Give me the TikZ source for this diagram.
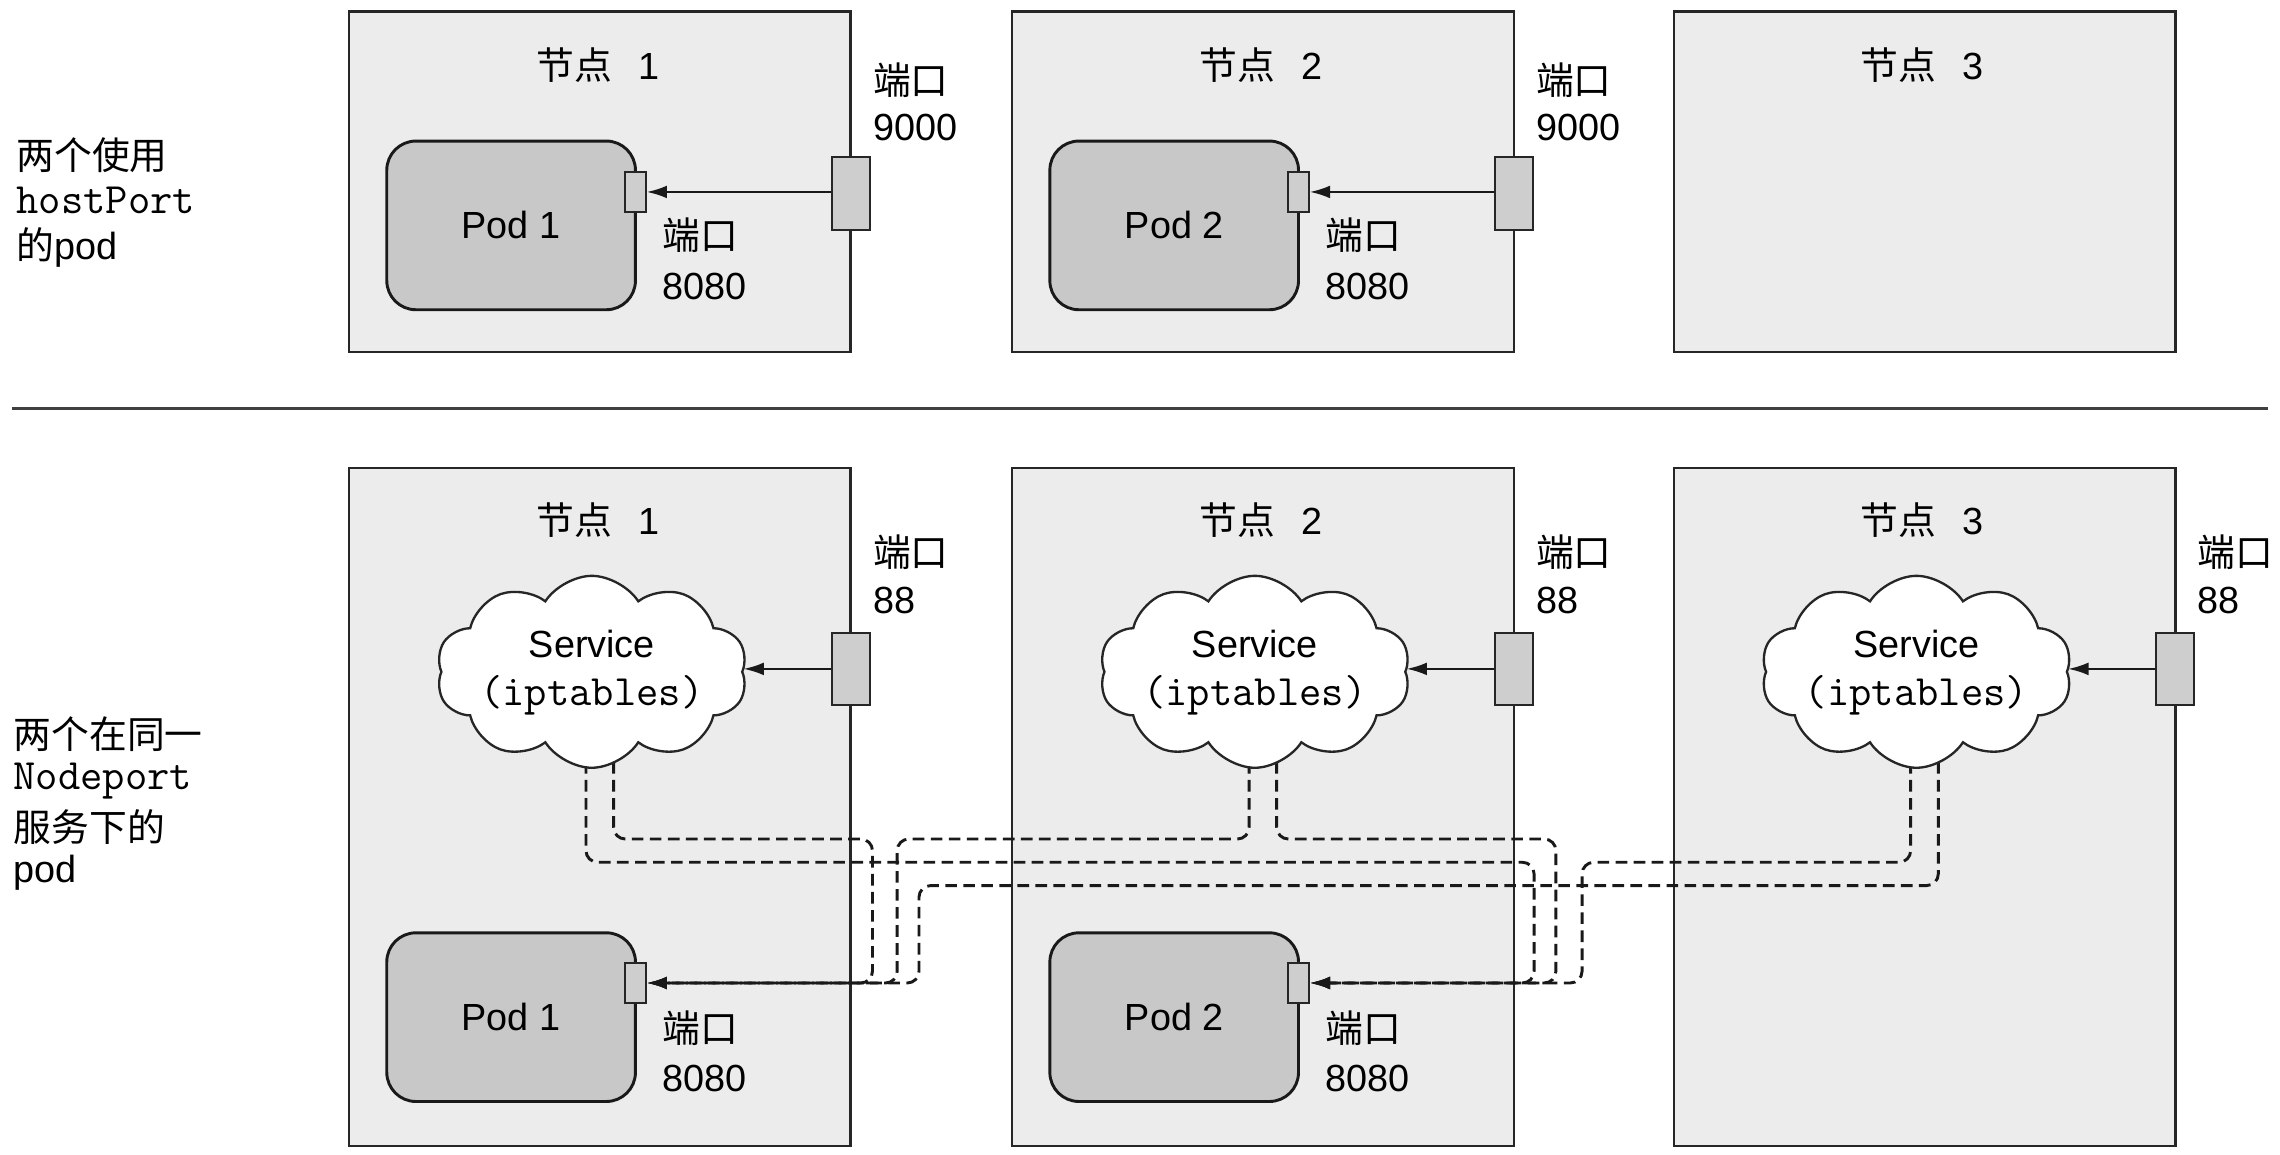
\documentclass[tikz,border=0pt]{standalone}
\usepackage{fontspec}
\setmainfont{Liberation Sans}
\newfontfamily\cjk{Noto Sans CJK SC}
\usetikzlibrary{shapes.symbols,arrows.meta}
\pgfdeclarelayer{paper}
\pgfdeclarelayer{boxes}
\pgfdeclarelayer{links}
\pgfsetlayers{paper,boxes,links,main}
\definecolor{boxgray}{RGB}{236,236,236}
\definecolor{podgray}{RGB}{200,200,200}
\definecolor{portgray}{RGB}{206,206,206}
\begin{document}
\begin{tikzpicture}[x=0.5pt,y=-0.5pt,
  nodebox/.style={draw=black!85, line width=0.8pt, fill=boxgray, inner sep=0},
  podbox/.style={draw=black!90, line width=1pt, fill=podgray, rounded corners=10pt,
    minimum width=85.5pt, minimum height=58pt, inner sep=0, font=\fontsize{13}{15}\selectfont},
  pport/.style={draw=black!85, line width=0.7pt, fill=portgray, minimum width=7pt,
    minimum height=13.5pt, inner sep=0},
  hport/.style={draw=black!85, line width=0.7pt, fill=portgray, minimum width=13pt,
    minimum height=25pt, inner sep=0},
  lbl/.style={font=\fontsize{13}{15}\selectfont, inner sep=0, anchor=west},
  ttl/.style={font=\fontsize{13}{15}\selectfont, inner sep=0},
  mono/.style={font=\fontsize{14.9}{16}\selectfont\ttfamily},
  cloudsty/.style={cloud, cloud puffs=10, cloud puff arc=115, cloud ignores aspect,
    minimum width=107pt, minimum height=66pt, draw=black!85, line width=0.8pt,
    fill=white, inner sep=0},
  arr/.style={-{Latex[length=7pt,width=4.4pt]}, line width=0.8pt, draw=black!90},
  dlink/.style={arr, line width=1pt, dash pattern=on 4pt off 2.2pt, rounded corners=4pt}
]
\useasboundingbox (0,0) rectangle (1568,794);
\begin{pgfonlayer}{paper}
\fill[white] (0,0) rectangle (1568,794);
\end{pgfonlayer}

% ---------- node boxes ----------
\begin{pgfonlayer}{boxes}
\foreach \i/\dx in {1/0,2/456,3/911} {
  \node[nodebox, minimum width=172.5pt, minimum height=117pt] (nt\i) at (412.5+\dx,125) {};
  \node[nodebox, minimum width=172.5pt, minimum height=233pt] (nb\i) at (412.5+\dx,555) {};
}
\end{pgfonlayer}

% ---------- titles ----------
\foreach \i/\dx in {1/0,2/456,3/911} {
  \node[ttl] (tt\i) at (411+\dx,45) {{\cjk 节点}\hspace{9pt}\i};
  \node[ttl] (tb\i) at (411+\dx,358) {{\cjk 节点}\hspace{9pt}\i};
}

% ---------- left labels ----------
\node[lbl] (lt1) at (11,107) {\cjk 两个使用};
\node[lbl, mono] (lt2) at (11,138) {hostPort};
\node[lbl] (lt3) at (11,170) {{\cjk 的}pod};
\node[lbl] (lb1) at (9,505) {\cjk 两个在同一};
\node[lbl, mono] (lb2) at (9,537) {Nodeport};
\node[lbl] (lb3) at (9,569) {\cjk 服务下的};
\node[lbl] (lb4) at (9,600) {pod};

% ---------- divider ----------
\coordinate (dvl) at (8,281);
\coordinate (dvr) at (1560,281);
\draw[line width=1.1pt, black!75] (dvl) -- (dvr);

% ---------- top row: hostPort pods ----------
\foreach \i/\dx in {1/0,2/456} {
  \node[podbox] (pt\i) at (351.5+\dx,155) {Pod \i};
  \node[pport] (ppt\i) at (437+\dx,132) {};
  \node[hport] (hpt\i) at (585+\dx,133) {};
  \draw[arr] (hpt\i.west |- ppt\i) -- (ppt\i.east);
  \node[lbl] (lh\i a) at (600+\dx,55) {\cjk 端口};
  \node[lbl] (lh\i b) at (600+\dx,88) {9000};
  \node[lbl] (lp\i a) at (455+\dx,162) {\cjk 端口};
  \node[lbl] (lp\i b) at (455+\dx,197) {8080};
}

% ---------- bottom row: services ----------
\foreach \i/\dx in {1/0,2/456,3/911} {
  \node[cloudsty] (cl\i) at (407+\dx,462) {};
  \node[ttl] (cs\i) at (407+\dx,443) {Service};
  \node[ttl, mono] (ci\i) at (407+\dx,478) {(iptables)};
  \node[hport] (hpb\i) at (585+\dx,460) {};
  \draw[arr] (hpb\i.west) -- (cl\i.east |- hpb\i);
  \node[lbl] (ln\i a) at (600+\dx,380) {\cjk 端口};
  \node[lbl] (ln\i b) at (600+\dx,413) {88};
}

% ---------- bottom row: pods ----------
\foreach \i/\dx in {1/0,2/456} {
  \node[podbox] (pb\i) at (351.5+\dx,699.5) {Pod \i};
  \node[pport] (ppb\i) at (437+\dx,676) {};
  \node[lbl] (lq\i a) at (455+\dx,707) {\cjk 端口};
  \node[lbl] (lq\i b) at (455+\dx,742) {8080};
}

% ---------- dashed service links ----------
\begin{pgfonlayer}{links}
\draw[dlink] ([xshift=7.5pt]cl1.center) |- (600,577) -- (600,676) -- (ppb1.east);
\draw[dlink] ([xshift=-2pt]cl1.center) |- (1055,593) -- (1055,676) -- (ppb2.east);
\draw[dlink] ([xshift=-2pt]cl2.center) |- (617,577) -- (617,676) -- (ppb1.east);
\draw[dlink] ([xshift=7.5pt]cl2.center) |- (1070,577) -- (1070,676) -- (ppb2.east);
\draw[dlink] ([xshift=-2pt]cl3.center) |- (1088,593) -- (1088,676) -- (ppb2.east);
\draw[dlink] ([xshift=7.5pt]cl3.center) |- (632,609) -- (632,676) -- (ppb1.east);
\end{pgfonlayer}
\end{tikzpicture}
\end{document}
